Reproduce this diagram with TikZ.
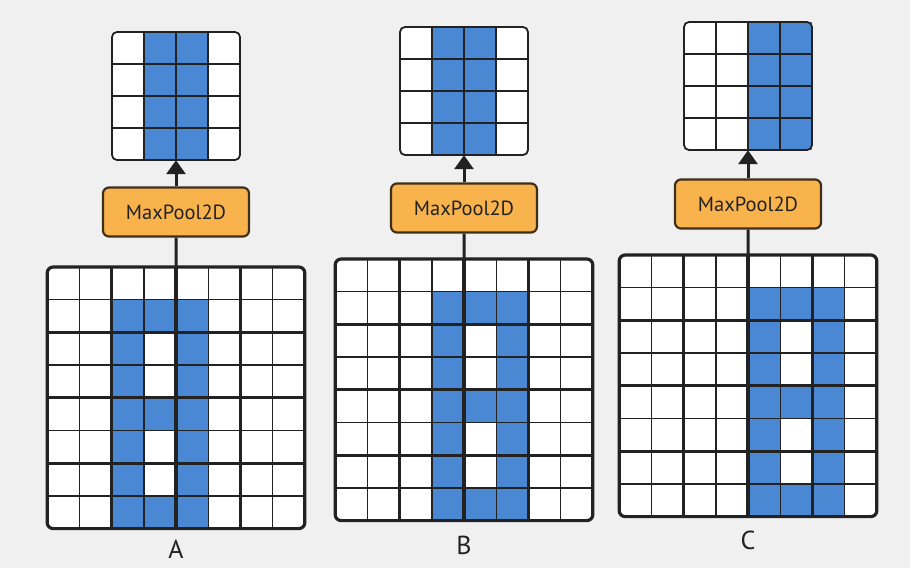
\documentclass[tikz,border=0pt]{standalone}
\usepackage{fontspec}
\setmainfont{PT Sans}
\usetikzlibrary{arrows.meta,fit}
\definecolor{cellblue}{HTML}{4A88D4}
\definecolor{poolfill}{HTML}{F9B34C}
\definecolor{pooldraw}{HTML}{3E2E1C}
\definecolor{ink}{HTML}{222222}
\definecolor{paper}{HTML}{F0F0F1}
\tikzset{
  pool/.style={draw=pooldraw, fill=poolfill, line width=2.2pt, rounded corners=6pt,
    minimum width=146pt, minimum height=49pt, inner sep=0pt,
    font=\fontsize{20.5}{22}\selectfont, text=ink},
  link/.style={draw=ink, line width=3pt},
  lab/.style={font=\fontsize{26}{28}\selectfont, text=ink},
  thinline/.style={draw=ink, line width=1.4pt},
  thickline/.style={draw=ink, line width=3.2pt},
  frame/.style={draw=ink, line width=3.2pt, rounded corners=6pt},
  smallframe/.style={draw=ink, line width=1.8pt, rounded corners=5pt},
  box/.style={inner sep=0pt, draw=none},
}
% #1 name, #2 x, #3 y, #4 column shift
\newcommand\bigGrid[4]{%
  \begin{scope}[shift={(#2,#3)}, x=32.2pt, y=-32.7pt]
    \fill[white, rounded corners=6pt] (0,0) rectangle (8,8);
    \foreach \c/\r in {2/1,3/1,4/1,2/2,4/2,2/3,4/3,2/4,3/4,4/4,2/5,4/5,2/6,4/6,2/7,3/7,4/7}
      \fill[cellblue] ({\c+#4},\r) rectangle ({\c+#4+1},{\r+1});
    \foreach \i in {1,3,5,7} {
      \draw[thinline] (\i,0) -- (\i,8);
      \draw[thinline] (0,\i) -- (8,\i);
    }
    \foreach \i in {2,4,6} {
      \draw[thickline] (\i,0) -- (\i,8);
      \draw[thickline] (0,\i) -- (8,\i);
    }
    \draw[frame] (0,0) rectangle (8,8);
    \coordinate (#1nw) at (0,0);
    \coordinate (#1se) at (8,8);
  \end{scope}
  \node[box, fit=(#1nw)(#1se)] (#1) {};
}
% #1 name, #2 x, #3 y, #4 first blue column
\newcommand\smallGrid[4]{%
  \begin{scope}[shift={(#2,#3)}, x=32pt, y=-32pt]
    \fill[white, rounded corners=5pt] (0,0) rectangle (4,4);
    \fill[cellblue] (#4,0) rectangle ({#4+2},4);
    \foreach \i in {1,2,3} {
      \draw[thinline] (\i,0) -- (\i,4);
      \draw[thinline] (0,\i) -- (4,\i);
    }
    \draw[smallframe] (0,0) rectangle (4,4);
    \coordinate (#1nw) at (0,0);
    \coordinate (#1se) at (4,4);
  \end{scope}
  \node[box, fit=(#1nw)(#1se)] (#1) {};
}
\begin{document}
\begin{tikzpicture}[x=1pt, y=-1pt]
  \fill[paper] (0,0) rectangle (910,568);
  \useasboundingbox (0,0) rectangle (910,568);

  \bigGrid{bigA}{47.2}{267}{0}
  \bigGrid{bigB}{335.2}{259}{1}
  \bigGrid{bigC}{619.2}{255}{2}

  \smallGrid{outA}{112}{32}{1}
  \smallGrid{outB}{400}{27}{1}
  \smallGrid{outC}{684}{22}{2}

  \node[pool] (poolA) at (176,212) {MaxPool2D};
  \node[pool] (poolB) at (464,208) {MaxPool2D};
  \node[pool] (poolC) at (748,204) {MaxPool2D};

  \foreach \k in {A,B,C} {
    \draw[link] (big\k.north) -- (pool\k.south);
    \draw[link, -{Triangle[width=19pt,length=14pt]}] (pool\k.north) -- (out\k.south);
  }

  \node[lab] (labA) at (176,549) {A};
  \node[lab] (labB) at (464,545) {B};
  \node[lab] (labC) at (748,540) {C};
\end{tikzpicture}
\end{document}
